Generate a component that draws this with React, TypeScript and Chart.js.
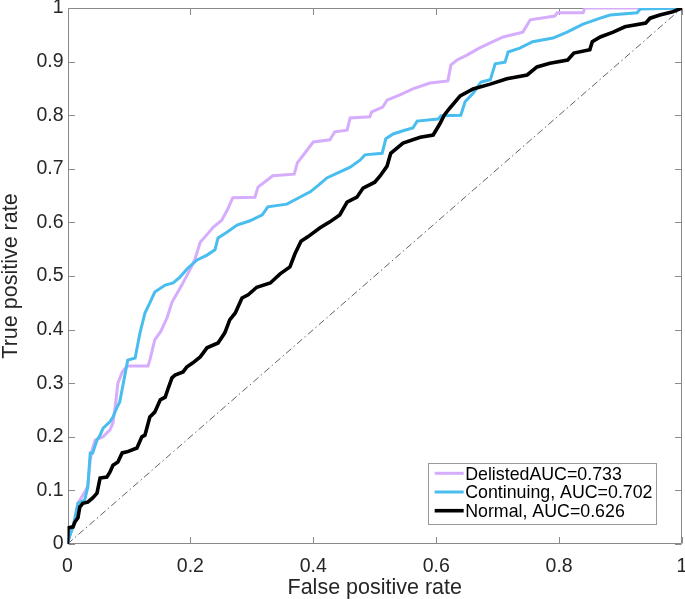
import React, { useEffect, useRef } from "react";
import { Chart, registerables } from "chart.js";

Chart.register(...registerables);

const xTicks = [0, 0.2, 0.4, 0.6, 0.8, 1];
const yTicks = [0, 0.1, 0.2, 0.3, 0.4, 0.5, 0.6, 0.7, 0.8, 0.9, 1];

const seriesLabels = ["DelistedAUC=0.733", "Continuing, AUC=0.702", "Normal, AUC=0.626"];

const delistedFpr = [0, 0.004, 0.012, 0.017, 0.027, 0.033, 0.037, 0.040, 0.045, 0.058, 0.069, 0.074, 0.079, 0.082, 0.089, 0.097, 0.131, 0.134, 0.142, 0.152, 0.162, 0.170, 0.186, 0.199, 0.207, 0.216, 0.229, 0.237, 0.251, 0.260, 0.269, 0.305, 0.310, 0.334, 0.369, 0.374, 0.386, 0.400, 0.427, 0.435, 0.455, 0.460, 0.492, 0.495, 0.513, 0.520, 0.541, 0.562, 0.590, 0.619, 0.624, 0.634, 0.650, 0.670, 0.688, 0.709, 0.741, 0.753, 0.793, 0.797, 0.839, 0.842, 1];
const delistedTpr = [0, 0.017, 0.045, 0.076, 0.095, 0.108, 0.157, 0.175, 0.194, 0.200, 0.213, 0.226, 0.269, 0.300, 0.321, 0.332, 0.332, 0.343, 0.381, 0.397, 0.422, 0.451, 0.483, 0.511, 0.530, 0.563, 0.580, 0.591, 0.604, 0.623, 0.646, 0.647, 0.666, 0.687, 0.690, 0.711, 0.729, 0.750, 0.754, 0.769, 0.772, 0.795, 0.797, 0.806, 0.815, 0.828, 0.838, 0.849, 0.860, 0.864, 0.894, 0.903, 0.912, 0.925, 0.935, 0.946, 0.955, 0.978, 0.985, 0.991, 0.991, 1, 1];

const continuingFpr = [0, 0.001, 0.009, 0.017, 0.028, 0.033, 0.037, 0.041, 0.048, 0.053, 0.058, 0.069, 0.074, 0.081, 0.085, 0.098, 0.110, 0.118, 0.126, 0.134, 0.142, 0.159, 0.172, 0.183, 0.196, 0.211, 0.227, 0.240, 0.245, 0.260, 0.276, 0.297, 0.317, 0.326, 0.357, 0.378, 0.395, 0.409, 0.422, 0.439, 0.460, 0.476, 0.484, 0.512, 0.518, 0.530, 0.546, 0.562, 0.569, 0.603, 0.608, 0.640, 0.647, 0.660, 0.673, 0.688, 0.696, 0.712, 0.717, 0.736, 0.757, 0.790, 0.813, 0.839, 0.867, 0.883, 0.927, 0.932, 1];
const continuingTpr = [0, 0.006, 0.032, 0.076, 0.082, 0.106, 0.170, 0.170, 0.194, 0.203, 0.216, 0.228, 0.237, 0.256, 0.265, 0.343, 0.347, 0.394, 0.431, 0.450, 0.470, 0.483, 0.487, 0.498, 0.515, 0.530, 0.539, 0.549, 0.571, 0.582, 0.595, 0.603, 0.614, 0.629, 0.634, 0.647, 0.657, 0.670, 0.683, 0.692, 0.703, 0.716, 0.726, 0.729, 0.756, 0.765, 0.771, 0.776, 0.789, 0.793, 0.799, 0.800, 0.825, 0.841, 0.862, 0.866, 0.896, 0.899, 0.918, 0.925, 0.937, 0.944, 0.955, 0.970, 0.981, 0.987, 0.991, 0.998, 1];

const normalFpr = [0, 0.001, 0.009, 0.012, 0.017, 0.020, 0.025, 0.033, 0.041, 0.048, 0.053, 0.064, 0.069, 0.074, 0.082, 0.089, 0.097, 0.113, 0.121, 0.126, 0.134, 0.142, 0.151, 0.159, 0.164, 0.170, 0.175, 0.188, 0.194, 0.204, 0.216, 0.227, 0.245, 0.256, 0.264, 0.273, 0.284, 0.294, 0.308, 0.330, 0.346, 0.362, 0.370, 0.380, 0.391, 0.411, 0.427, 0.443, 0.455, 0.471, 0.481, 0.500, 0.509, 0.520, 0.526, 0.546, 0.574, 0.595, 0.606, 0.613, 0.622, 0.639, 0.660, 0.688, 0.715, 0.748, 0.764, 0.785, 0.814, 0.824, 0.850, 0.854, 0.867, 0.888, 0.907, 0.941, 0.948, 0.964, 0.985, 1];
const normalTpr = [0, 0.030, 0.032, 0.041, 0.049, 0.069, 0.076, 0.078, 0.086, 0.095, 0.123, 0.125, 0.134, 0.147, 0.153, 0.170, 0.172, 0.179, 0.200, 0.203, 0.237, 0.246, 0.269, 0.274, 0.291, 0.310, 0.315, 0.321, 0.330, 0.338, 0.349, 0.366, 0.375, 0.394, 0.418, 0.431, 0.459, 0.465, 0.479, 0.487, 0.504, 0.517, 0.541, 0.565, 0.573, 0.590, 0.601, 0.614, 0.638, 0.647, 0.664, 0.675, 0.687, 0.705, 0.729, 0.748, 0.759, 0.763, 0.784, 0.800, 0.813, 0.836, 0.849, 0.858, 0.868, 0.875, 0.890, 0.897, 0.903, 0.916, 0.922, 0.937, 0.946, 0.955, 0.965, 0.972, 0.981, 0.987, 0.993, 1];

const chanceFpr = [0, 1];
const chanceTpr = [0, 1];

const FONT = "'Liberation Sans', Arial, Helvetica, sans-serif";
const AXIS_COLOR = "#8a8a8a";
const TEXT_COLOR = "#262626";
const COLORS = ["rgb(214,172,252)", "rgb(72,189,238)", "#000000"];
const WIDTHS = [3, 3, 3.6];

function toPoints(xs: number[], ys: number[]) {
  return xs.map((x, i) => ({ x, y: ys[i] }));
}

const framePlugin = {
  id: "matlabFrame",
  beforeDatasetsDraw(chart: any) {
    const { ctx, chartArea: a, scales } = chart;
    const xs = scales.x;
    const ys = scales.y;
    const L = Math.round(a.left) + 0.5;
    const R = Math.round(a.right) - 0.5;
    const T = Math.round(a.top) + 0.5;
    const B = Math.round(a.bottom) - 0.5;
    const tl = 6.5;
    ctx.save();
    ctx.strokeStyle = AXIS_COLOR;
    ctx.lineWidth = 1;
    ctx.beginPath();
    ctx.rect(L, T, R - L, B - T);
    for (const v of xTicks) {
      const px = Math.round(xs.getPixelForValue(v)) + 0.5;
      ctx.moveTo(px, B);
      ctx.lineTo(px, B - tl);
      ctx.moveTo(px, T);
      ctx.lineTo(px, T + tl);
    }
    for (const v of yTicks) {
      const py = Math.round(ys.getPixelForValue(v)) + 0.5;
      ctx.moveTo(L, py);
      ctx.lineTo(L + tl, py);
      ctx.moveTo(R, py);
      ctx.lineTo(R - tl, py);
    }
    ctx.stroke();
    ctx.restore();
  },
  afterDraw(chart: any) {
    const { ctx, chartArea: a } = chart;
    ctx.save();
    ctx.font = `17.8px ${FONT}`;
    const widths = seriesLabels.map((t) => ctx.measureText(t).width);
    const maxW = Math.max(...widths);
    const padL = 6.5;
    const lineLen = 29;
    const gap = 1.5;
    const padR = 4;
    const w = padL + lineLen + gap + maxW + padR;
    const rowH = 18.7;
    const h = 10 + rowH * (seriesLabels.length - 1) + 13.3;
    const right = a.right - 25.5;
    const bottom = a.bottom - 20;
    const left = right - w;
    const top = bottom - h;
    ctx.fillStyle = "#ffffff";
    ctx.fillRect(left, top, w, h);
    ctx.strokeStyle = "#9a9a9a";
    ctx.lineWidth = 1;
    ctx.strokeRect(Math.round(left) + 0.5, Math.round(top) + 0.5, Math.round(w), Math.round(h));
    seriesLabels.forEach((label, i) => {
      const cy = top + 10 + i * rowH;
      ctx.strokeStyle = COLORS[i];
      ctx.lineWidth = WIDTHS[i];
      ctx.beginPath();
      ctx.moveTo(left + padL, cy);
      ctx.lineTo(left + padL + lineLen, cy);
      ctx.stroke();
      ctx.fillStyle = "#000000";
      ctx.textAlign = "left";
      ctx.textBaseline = "middle";
      ctx.fillText(label, left + padL + lineLen + gap, cy + 1.5);
    });
    ctx.restore();
  },
};

export default function App() {
  const ref = useRef<HTMLCanvasElement | null>(null);

  useEffect(() => {
    if (!ref.current) return;
    const fmt = (v: any) => String(Math.round(Number(v) * 10) / 10);
    const chart = new Chart(ref.current, {
      type: "line",
      data: {
        datasets: [
          {
            label: seriesLabels[2],
            data: toPoints(normalFpr, normalTpr),
            borderColor: COLORS[2],
            borderWidth: WIDTHS[2],
            order: 0,
          },
          {
            label: seriesLabels[1],
            data: toPoints(continuingFpr, continuingTpr),
            borderColor: COLORS[1],
            borderWidth: WIDTHS[1],
            order: 1,
          },
          {
            label: seriesLabels[0],
            data: toPoints(delistedFpr, delistedTpr),
            borderColor: COLORS[0],
            borderWidth: WIDTHS[0],
            order: 2,
          },
          {
            label: "chance",
            data: toPoints(chanceFpr, chanceTpr),
            borderColor: "#3a3a3a",
            borderWidth: 0.8,
            borderDash: [7, 3, 1.5, 3],
            order: 3,
          },
        ],
      },
      options: {
        responsive: false,
        animation: false,
        devicePixelRatio: 1,
        parsing: false,
        normalized: true,
        layout: { padding: { top: 8, right: 3, left: 0, bottom: 0 } },
        elements: {
          point: { radius: 0, hoverRadius: 0 },
          line: { tension: 0, fill: false, borderJoinStyle: "miter", borderCapStyle: "butt" },
        },
        plugins: {
          legend: { display: false },
          tooltip: { enabled: false },
        },
        events: [],
        scales: {
          x: {
            type: "linear",
            min: 0,
            max: 1,
            grid: { display: false, drawTicks: false },
            border: { display: false },
            afterBuildTicks: (s: any) => {
              s.ticks = xTicks.map((v) => ({ value: v }));
            },
            afterFit: (s: any) => {
              s.height = 55;
              s.paddingLeft = 0;
              s.paddingRight = 0;
              s.paddingTop = 0;
              s.paddingBottom = 0;
            },
            ticks: {
              color: TEXT_COLOR,
              font: { family: FONT, size: 19.5 },
              padding: 11,
              maxRotation: 0,
              autoSkip: false,
              callback: fmt,
            },
            title: {
              display: true,
              text: "False positive rate",
              color: TEXT_COLOR,
              font: { family: FONT, size: 21.5, lineHeight: 1 },
              padding: { top: 0, bottom: 0 },
            },
          },
          y: {
            type: "linear",
            min: 0,
            max: 1,
            grid: { display: false, drawTicks: false },
            border: { display: false },
            afterBuildTicks: (s: any) => {
              s.ticks = yTicks.map((v) => ({ value: v }));
            },
            afterFit: (s: any) => {
              s.width = 67.5;
              s.paddingLeft = 0;
              s.paddingRight = 0;
              s.paddingTop = 0;
              s.paddingBottom = 0;
            },
            ticks: {
              color: TEXT_COLOR,
              font: { family: FONT, size: 19.5 },
              padding: 4,
              autoSkip: false,
              callback: fmt,
            },
            title: {
              display: true,
              text: "True positive rate",
              color: TEXT_COLOR,
              font: { family: FONT, size: 21.5, lineHeight: 1 },
              padding: { top: 0, bottom: 0 },
            },
          },
        },
      },
      plugins: [framePlugin],
    });
    return () => chart.destroy();
  }, []);

  return (
    <div style={{ position: "absolute", left: 0, top: 0, width: 685, height: 599, background: "#fff" }}>
      <canvas ref={ref} width={685} height={599} style={{ display: "block" }} />
    </div>
  );
}
